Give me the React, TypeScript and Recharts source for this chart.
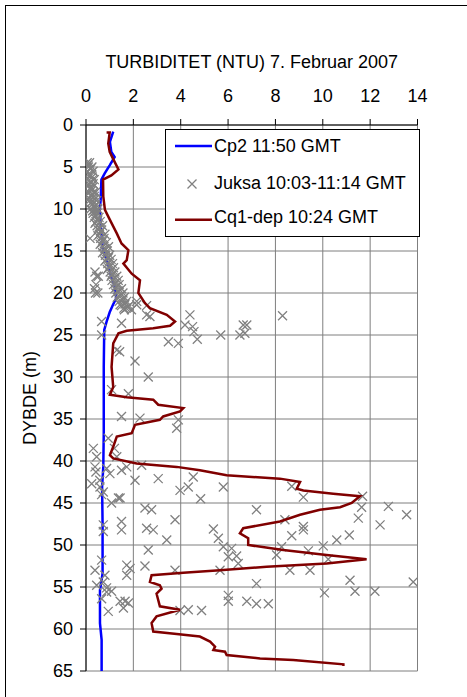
import React from 'react';
import { ScatterChart, Scatter, XAxis, YAxis, CartesianGrid, Legend } from 'recharts';

const FONT = '"Liberation Sans", Arial, Helvetica, sans-serif';

const xTicks = [0, 2, 4, 6, 8, 10, 12, 14];
const yTicks = [0, 5, 10, 15, 20, 25, 30, 35, 40, 45, 50, 55, 60, 65];

const titleText = 'TURBIDITET (NTU) 7. Februar 2007';
const yLabelText = 'DYBDE (m)';
const seriesNames = ['Cp2 11:50 GMT', 'Juksa 10:03-11:14 GMT', 'Cq1-dep 10:24 GMT'];

// [turbidity NTU, depth m]
const cp2: [number, number][] = [
  [1.15, 0.8], [1.01, 2.0], [1.07, 3.2], [1.21, 3.8], [1.0, 4.8], [0.79, 5.75], [0.65, 6.5],
  [0.62, 8.9], [0.58, 10.1], [0.65, 12.9], [0.72, 14.9], [0.93, 16.5], [1.07, 18.1],
  [1.21, 19.2], [1.28, 20.6], [1.14, 21.4], [1.0, 22.3], [0.87, 23.4], [0.77, 24.4],
  [0.75, 28.8], [0.75, 36.7], [0.73, 40.7], [0.68, 43.1], [0.7, 47.4], [0.7, 53.4],
  [0.59, 55.4], [0.59, 59.3], [0.66, 61.3], [0.66, 65.0],
];

const juksa: [number, number][] = [
  [0.05, 4.5], [0.15, 4.5], [0.1, 5], [0.25, 5], [0.05, 5.5], [0.3, 5.5], [0.15, 6], [0.22, 6],
  [0.05, 6.5], [0.28, 6.5], [0.35, 6.5], [0.12, 7], [0.3, 7], [0.18, 7.5], [0.25, 7.5],
  [0.1, 8], [0.32, 8], [0.4, 8], [0.22, 8.5], [0.35, 8.5], [0.15, 9], [0.3, 9], [0.45, 9],
  [0.25, 9.5], [0.42, 9.5], [0.2, 10], [0.38, 10], [0.5, 10], [0.3, 10.5], [0.47, 10.5],
  [0.35, 11], [0.55, 11], [0.42, 11.5], [0.6, 11.5], [0.47, 12], [0.7, 12], [0.52, 12.5],
  [0.66, 12.5], [0.57, 13], [0.8, 13], [0.17, 13.5], [0.62, 13.5], [0.76, 13.5], [0.66, 14],
  [0.86, 14], [0.72, 14.5], [0.95, 14.5], [0.77, 15], [0.9, 15], [0.82, 15.5], [1.0, 15.5],
  [0.86, 16], [1.06, 16], [0.92, 16.5], [1.12, 16.5], [0.96, 17], [1.16, 17], [0.38, 17.5],
  [1.02, 17.5], [1.22, 17.5], [0.45, 18], [0.52, 18], [1.06, 18], [1.3, 18], [1.1, 18.5],
  [1.36, 18.5], [0.42, 19], [1.16, 19], [1.4, 19], [0.36, 19.5], [1.22, 19.5], [1.5, 19.5],
  [0.4, 20], [0.5, 20], [1.26, 20], [1.56, 20], [1.32, 20.5], [1.62, 20.5], [1.4, 21],
  [1.72, 21], [2.14, 21], [1.5, 21.5], [1.82, 21.5], [2.56, 21.5], [1.62, 22], [1.92, 22],
  [0.08, 4.8], [0.2, 5.2], [0.12, 5.8], [0.26, 6.2], [0.18, 6.8], [0.08, 7.3], [0.24, 7.8],
  [0.3, 8.3], [0.12, 8.7], [0.38, 8.8], [0.2, 9.3], [0.36, 9.7], [0.28, 10.2], [0.44, 10.3],
  [0.4, 10.8], [0.5, 11.3], [0.38, 11.7], [0.55, 12.2], [0.62, 12.7], [0.5, 13.2], [0.7, 13.8],
  [0.6, 14.2], [0.8, 14.7], [0.7, 15.2], [0.95, 15.8], [0.8, 16.2], [1.0, 16.8], [0.9, 17.2],
  [1.1, 17.8], [1.2, 18.2], [1.26, 18.8], [1.3, 19.2], [1.38, 19.8], [1.46, 20.3], [1.55, 20.8],
  [1.65, 21.3], [1.76, 21.7],
  [1.44, 21.4], [1.6, 21.8], [1.7, 21.8], [1.5, 23.6], [2.14, 21.4], [2.56, 22.6], [2.7, 22.8],
  [0.66, 23.4], [0.66, 25.0], [4.39, 22.6], [4.18, 23.8], [4.5, 24.0], [4.56, 24.6], [4.7, 25.5],
  [3.48, 25.8], [3.9, 26.0], [1.3, 26.8], [1.42, 27.0], [2.07, 28.1], [2.63, 30.0], [1.08, 31.5],
  [1.79, 32.0], [1.5, 34.7], [2.28, 34.9], [3.9, 35.1], [3.83, 36.1], [0.94, 37.3], [1.2, 38.5],
  [1.3, 39.5], [0.31, 38.5], [0.45, 39.5], [0.38, 40.7], [0.42, 41.3], [0.87, 40.9], [1.01, 41.5],
  [1.5, 41.1], [1.72, 40.7], [2.35, 40.5], [2.07, 42.3], [3.05, 42.1], [0.24, 42.7], [0.58, 42.3],
  [0.59, 43.1], [0.73, 43.7], [3.97, 43.5], [4.32, 43.1], [4.53, 41.9], [4.84, 44.5], [1.37, 44.4],
  [5.69, 25.0], [6.5, 25.0], [6.71, 24.8], [6.64, 23.8], [6.79, 23.8], [8.3, 22.7],
  [5.8, 43.1], [8.69, 43.0], [9.18, 44.3], [11.68, 44.2], [7.2, 45.8], [11.64, 45.5],
  [11.5, 46.8], [12.77, 45.4], [13.54, 46.4], [12.42, 47.6], [8.4, 47.0], [9.18, 47.8],
  [9.18, 48.2], [8.69, 48.9], [10.59, 49.4], [11.12, 48.8], [10.02, 50.1], [9.39, 50.7],
  [8.26, 50.2], [8.05, 51.2], [10.23, 51.7], [8.61, 53.0], [9.46, 53.0], [11.15, 54.2],
  [11.36, 55.5], [12.2, 55.5], [13.82, 54.4], [10.07, 55.7], [7.2, 54.6], [5.38, 48.1],
  [5.59, 49.2], [5.8, 50.2], [6.15, 50.4], [6.01, 51.4], [6.36, 51.3], [6.43, 52.2],
  [5.66, 53.0], [6.01, 56.0], [6.01, 56.7], [6.79, 56.7], [7.2, 57.0], [7.7, 57.0],
  [0.66, 44.0], [1.08, 45.0], [1.44, 44.4], [2.49, 45.6], [2.77, 45.8], [3.76, 47.0],
  [1.5, 47.2], [1.5, 48.2], [0.73, 47.6], [0.73, 48.4], [2.56, 48.0], [2.84, 48.2],
  [3.41, 49.4], [2.63, 50.6], [0.66, 51.8], [1.72, 52.4], [1.86, 52.8], [1.72, 53.6],
  [2.49, 52.5], [3.76, 53.0], [0.38, 53.0], [0.8, 53.6], [0.45, 54.8], [0.73, 54.4],
  [0.87, 55.1], [1.08, 55.5], [0.66, 56.4], [0.87, 55.6], [1.44, 56.7], [1.65, 56.7],
  [1.79, 56.9], [1.58, 57.5], [0.94, 57.9], [3.97, 57.8], [4.32, 57.7], [4.88, 57.8],
];

const cq1: [number, number][] = [
  [0.87, 0.9], [1.0, 0.9], [0.94, 2.2], [1.0, 3.2], [1.14, 4.0], [1.37, 5.3], [1.07, 6.0],
  [0.72, 6.5], [0.73, 8.5], [0.8, 10.1], [1.01, 11.3], [1.3, 12.9], [1.5, 14.1], [1.79, 14.9],
  [1.72, 16.1], [1.58, 16.5], [1.93, 17.7], [2.28, 18.5], [2.21, 20.0], [2.49, 21.2],
  [2.7, 21.8], [3.41, 22.6], [3.76, 23.4], [3.55, 23.9], [2.84, 24.2], [1.72, 24.5],
  [1.37, 24.8], [1.15, 26.0], [1.08, 28.8], [1.15, 31.2], [1.01, 32.1], [1.72, 32.4],
  [2.84, 32.7], [3.05, 33.3], [4.11, 33.7], [3.97, 34.1], [3.26, 34.7], [3.12, 35.1],
  [2.07, 35.7], [1.93, 36.7], [1.3, 37.1], [1.15, 38.3], [1.01, 39.3], [1.15, 39.7],
  [2.14, 40.3], [3.83, 40.7], [4.81, 41.1], [5.94, 41.7], [8.19, 42.1], [9.04, 42.5],
  [8.9, 43.3], [9.18, 43.5], [10.44, 43.9], [11.57, 44.2], [11.22, 45.0], [10.73, 45.5],
  [9.88, 45.8], [9.04, 46.4], [8.19, 47.2], [6.64, 48.0], [6.5, 48.6], [6.85, 49.2],
  [6.85, 50.0], [8.33, 50.6], [10.16, 51.2], [11.85, 51.7], [10.16, 52.2], [7.63, 52.6],
  [5.66, 53.0], [4.11, 53.3], [2.77, 53.6], [2.7, 54.4], [3.12, 54.8], [3.19, 55.2],
  [2.98, 55.8], [3.12, 57.3], [3.97, 57.7], [2.98, 58.5], [2.77, 59.3], [2.84, 60.3],
  [3.83, 60.6], [4.81, 60.9], [5.24, 61.5], [5.45, 62.1], [5.38, 62.5], [5.87, 62.7],
  [5.94, 63.1], [7.35, 63.5], [8.75, 63.7], [10.87, 64.2], [10.87, 64.4],
];

const toPts = (arr: [number, number][]) => arr.map(([x, y]) => ({ x, y }));

const Cross = (props: any) => {
  const { cx, cy } = props;
  if (cx == null || cy == null) return <g />;
  const s = 4.5;
  return (
    <path
      d={`M${cx - s},${cy - s}L${cx + s},${cy + s}M${cx + s},${cy - s}L${cx - s},${cy + s}`}
      stroke="#808080"
      strokeWidth={1.3}
      fill="none"
    />
  );
};

const NoDot = () => <g />;

const TitleLabel = (props: any) => {
  const vb = props.viewBox || {};
  return (
    <text x={vb.x + vb.width / 2} y={vb.y - 27} textAnchor="middle" fontSize={18} fontFamily={FONT} fill="#000">
      {titleText}
    </text>
  );
};

const YLabel = (props: any) => {
  const vb = props.viewBox || {};
  const x = vb.x + 10;
  const y = vb.y + vb.height / 2;
  return (
    <text x={x} y={y} transform={`rotate(-90, ${x}, ${y})`} textAnchor="middle" fontSize={18} fontFamily={FONT} fill="#000">
      {yLabelText}
    </text>
  );
};

const LegendBox = () => (
  <svg width={255} height={108} style={{ display: 'block' }}>
    <rect x={0.5} y={0.5} width={254} height={107} fill="#fff" stroke="#000" strokeWidth={1} />
    <line x1={10} x2={47} y1={17} y2={17} stroke="#0000FF" strokeWidth={2.5} />
    <text x={49} y={23} fontSize={18} fontFamily={FONT} fill="#000">{seriesNames[0]}</text>
    <Cross cx={27} cy={55} />
    <text x={49} y={59.5} fontSize={18} fontFamily={FONT} fill="#000">{seriesNames[1]}</text>
    <line x1={10} x2={47} y1={90.7} y2={90.7} stroke="#800000" strokeWidth={2.5} />
    <text x={49} y={94} fontSize={18} fontFamily={FONT} fill="#000">{seriesNames[2]}</text>
  </svg>
);

export default function App() {
  return (
    <div style={{ position: 'absolute', left: 0, top: 0, width: 467, height: 697, overflow: 'hidden', background: '#fff' }}>
      <div
        style={{
          position: 'absolute', left: 5, top: 5, width: 600, height: 800,
          borderTop: '1.5px solid #000', borderLeft: '1.5px solid #000', boxSizing: 'border-box',
        }}
      />
      <div style={{ position: 'absolute', left: 0, top: 0 }}>
        <ScatterChart
          width={467}
          height={697}
          margin={{ top: 95, right: 49.5, bottom: 26, left: 26 }}
          style={{ fontFamily: FONT }}
        >
          <CartesianGrid stroke="#7f7f7f" strokeWidth={1} />
          <XAxis
            type="number"
            dataKey="x"
            orientation="top"
            domain={[0, 14]}
            ticks={xTicks}
            interval={0}
            height={30}
            tickSize={6}
            tickMargin={17}
            axisLine={{ stroke: '#000', strokeWidth: 1 }}
            tickLine={{ stroke: '#000' }}
            tick={{ fontSize: 18, fill: '#000', fontFamily: FONT }}
            label={TitleLabel}
            allowDataOverflow
          />
          <YAxis
            type="number"
            dataKey="y"
            reversed
            domain={[0, 65]}
            ticks={yTicks}
            interval={0}
            width={60}
            tickSize={6}
            tickMargin={7}
            axisLine={{ stroke: '#000', strokeWidth: 1 }}
            tickLine={{ stroke: '#000' }}
            tick={{ fontSize: 18, fill: '#000', fontFamily: FONT }}
            label={YLabel}
            allowDataOverflow
          />
          <Legend
            layout="horizontal"
            verticalAlign="middle"
            align="center"
            content={LegendBox}
            wrapperStyle={{ position: 'absolute', left: 165, top: 129, width: 255, height: 108, lineHeight: 0 }}
          />
          <Scatter
            name={seriesNames[0]}
            data={toPts(cp2)}
            fill="#0000FF"
            line={{ stroke: '#0000FF', strokeWidth: 2.5 }}
            lineType="joint"
            shape={NoDot}
            isAnimationActive={false}
          />
          <Scatter
            name={seriesNames[1]}
            data={toPts(juksa)}
            fill="#808080"
            shape={Cross}
            isAnimationActive={false}
          />
          <Scatter
            name={seriesNames[2]}
            data={toPts(cq1)}
            fill="#800000"
            line={{ stroke: '#800000', strokeWidth: 2.5 }}
            lineType="joint"
            shape={NoDot}
            isAnimationActive={false}
          />
        </ScatterChart>
      </div>
    </div>
  );
}
